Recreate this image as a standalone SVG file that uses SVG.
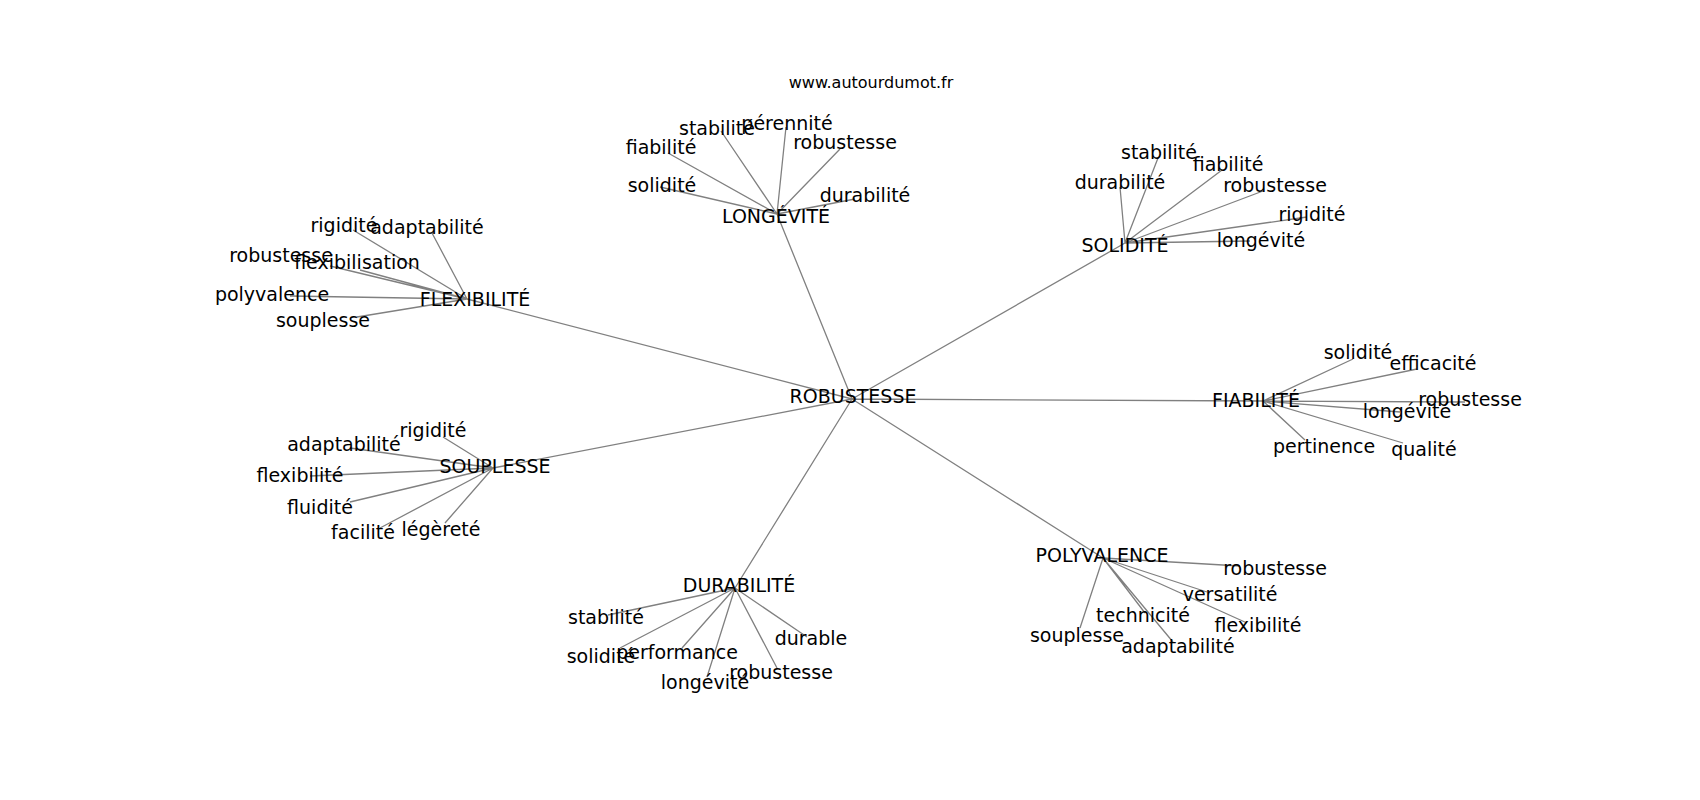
<svg xmlns="http://www.w3.org/2000/svg" width="1700" height="800" viewBox="0 0 1700 800">
<style>
.e{stroke:#808080;stroke-width:1.3;fill:none}
text{font-family:"DejaVu Sans",sans-serif;font-size:19px;fill:#000;text-anchor:middle}
.t{font-size:16px}
</style>
<rect width="1700" height="800" fill="#fff"/>
<g id="connectors">
<path class="e" d="M852,399L777,214M852,399L1125,243M852,399L467,299M852,399L1263,401M852,399L493,468M852,399L735,588M852,399L1103,558"/>
<path class="e" d="M777,214L721,131M777,214L786,127M777,214L668,153M777,214L840,149M777,214L660,187M777,214L855,199"/>
<path class="e" d="M1125,243L1158,158M1125,243L1120,187M1125,243L1222,170M1125,243L1263,191M1125,243L1307,217M1125,243L1250,241"/>
<path class="e" d="M467,299L353,230M467,299L432,233M467,299L330,266M467,299L360,270M467,299L290,296M467,299L357,317"/>
<path class="e" d="M1263,401L1353,359M1263,401L1417,369M1263,401L1465,402M1263,401L1400,412M1263,401L1305,440M1263,401L1403,443"/>
<path class="e" d="M493,468L443,437M493,468L350,448M493,468L310,476M493,468L350,502M493,468L380,528M493,468L445,523"/>
<path class="e" d="M735,588L608,615M735,588L620,648M735,588L682,648M735,588L707,677M735,588L777,668M735,588L807,637"/>
<path class="e" d="M1103,558L1240,566M1103,558L1207,592M1103,558L1247,623M1103,558L1145,613M1103,558L1173,642M1103,558L1080,628"/>
</g>
<text class="t" x="871" y="88">www.autourdumot.fr</text>
<g id="ROBUSTESSE"><text x="853" y="403">ROBUSTESSE</text></g>
<g id="LONGEVITE">
<text x="776" y="223">LONGÉVITÉ</text>
<text x="717" y="135">stabilité</text>
<text x="787" y="130">pérennité</text>
<text x="661" y="154">fiabilité</text>
<text x="845" y="149">robustesse</text>
<text x="662" y="192">solidité</text>
<text x="865" y="202">durabilité</text>
</g>
<g id="SOLIDITE">
<text x="1125" y="252">SOLIDITÉ</text>
<text x="1159" y="159">stabilité</text>
<text x="1120" y="189">durabilité</text>
<text x="1228" y="171">fiabilité</text>
<text x="1275" y="192">robustesse</text>
<text x="1312" y="221">rigidité</text>
<text x="1261" y="247">longévité</text>
</g>
<g id="FLEXIBILITE">
<text x="475" y="306">FLEXIBILITÉ</text>
<text x="344" y="232">rigidité</text>
<text x="427" y="234">adaptabilité</text>
<text x="281" y="262">robustesse</text>
<text x="357" y="269">flexibilisation</text>
<text x="272" y="301">polyvalence</text>
<text x="323" y="327">souplesse</text>
</g>
<g id="FIABILITE">
<text x="1256" y="407">FIABILITÉ</text>
<text x="1358" y="359">solidité</text>
<text x="1433" y="370">efficacité</text>
<text x="1470" y="406">robustesse</text>
<text x="1407" y="418">longévité</text>
<text x="1324" y="453">pertinence</text>
<text x="1424" y="456">qualité</text>
</g>
<g id="SOUPLESSE">
<text x="495" y="473">SOUPLESSE</text>
<text x="433" y="437">rigidité</text>
<text x="344" y="451">adaptabilité</text>
<text x="300" y="482">flexibilité</text>
<text x="320" y="514">fluidité</text>
<text x="363" y="539">facilité</text>
<text x="441" y="536">légèreté</text>
</g>
<g id="DURABILITE">
<text x="739" y="592">DURABILITÉ</text>
<text x="606" y="624">stabilité</text>
<text x="601" y="663">solidité</text>
<text x="677" y="659">performance</text>
<text x="705" y="689">longévité</text>
<text x="781" y="679">robustesse</text>
<text x="811" y="645">durable</text>
</g>
<g id="POLYVALENCE">
<text x="1102" y="562">POLYVALENCE</text>
<text x="1275" y="575">robustesse</text>
<text x="1230" y="601">versatilité</text>
<text x="1258" y="632">flexibilité</text>
<text x="1143" y="622">technicité</text>
<text x="1178" y="653">adaptabilité</text>
<text x="1077" y="642">souplesse</text>
</g>
</svg>
